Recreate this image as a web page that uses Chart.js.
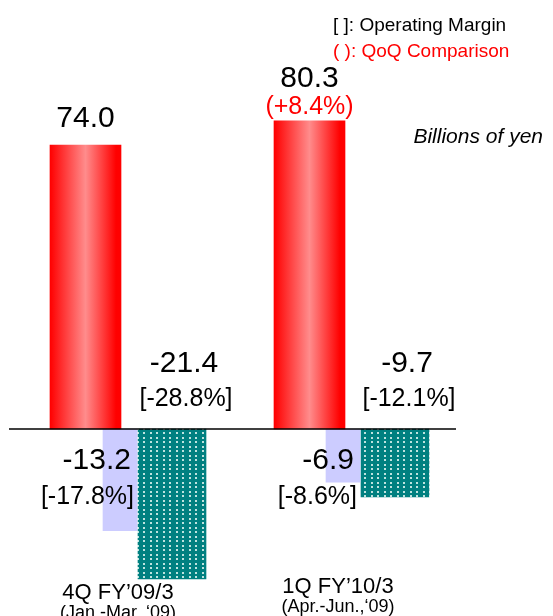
<!DOCTYPE html>
<html>
<head>
<meta charset="utf-8">
<script src="https://cdn.jsdelivr.net/npm/chart.js@4.4.0/dist/chart.umd.min.js"></script>
<style>
  html, body { margin: 0; padding: 0; background: #fff; }
  canvas { display: block; }
</style>
</head>
<body>
<canvas id="chart" width="553" height="616"></canvas>
<script>
// quarters shown on the x axis
const quarters = [`4Q FY\u201909/3`, `1Q FY\u201910/3`];
const periods = [`(Jan.-Mar.,\u201809)`, `(Apr.-Jun.,\u201809)`];

// billions of yen
const netSales = [74.0, 80.3];
const salesQoq = [null, 8.4];
const ordinaryIncome = [-13.2, -6.9];
const ordinaryMargin = [-17.8, -8.6];
const operatingIncome = [-21.4, -9.7];
const operatingMargin = [-28.8, -12.1];

const FONT = `"Liberation Sans", Arial, sans-serif`;
const WIDTH = 553;
const HEIGHT = 616;
const ZERO_PX = 429;

// the slide is not drawn to one scale, so each series gets its own axis
const yRange = (pxPerUnit) => ({
  min: -(HEIGHT - ZERO_PX) / pxPerUnit,
  max: ZERO_PX / pxPerUnit
});
const xRange = (firstCenter, spacing) => ({
  min: -firstCenter / spacing,
  max: (WIDTH - firstCenter) / spacing
});
const hidden = (type, range) => Object.assign({type, display: false, bounds: `data`, offset: false}, range);

const toPoints = (values) => values.map((y, x) => ({x, y}));

const makeDots = () => {
  const tile = document.createElement(`canvas`);
  tile.width = 13;
  tile.height = 9;
  const c = tile.getContext(`2d`);
  c.fillStyle = `#008080`;
  c.fillRect(0, 0, 13, 9);
  c.fillStyle = `rgba(225, 245, 240, 0.85)`;
  [[0, 0], [7, 0], [0, 5], [7, 5]].forEach(([x, y]) => c.fillRect(x, y, 2, 2));
  return c.createPattern(tile, `repeat`);
};

const redFill = (context) => {
  const {chart, dataIndex} = context;
  const scale = chart.scales.xRed;
  if (dataIndex === undefined || !scale) {
    return `#ff0000`;
  }
  const cx = scale.getPixelForValue(dataIndex);
  if (!Number.isFinite(cx)) {
    return `#ff0000`;
  }
  const g = chart.ctx.createLinearGradient(cx - 35.5, 0, cx + 35.5, 0);
  g.addColorStop(0, `#ff0000`);
  g.addColorStop(0.5, `#ff8c8c`);
  g.addColorStop(0.93, `#ff0000`);
  g.addColorStop(1, `#ff0000`);
  return g;
};

const text = (ctx, str, x, y, font, color = `#000`, align = `center`) => {
  ctx.font = font;
  ctx.fillStyle = color;
  ctx.textAlign = align;
  ctx.textBaseline = `alphabetic`;
  ctx.fillText(str, x, y);
};

const fmt = (v) => v.toFixed(1);

const labelPlugin = {
  id: `slideLabels`,
  afterDatasetsDraw(chart) {
    const {ctx} = chart;
    const zero = chart.scales.yRed.getPixelForValue(0);
    ctx.save();

    ctx.strokeStyle = `#000`;
    ctx.lineWidth = 1.5;
    ctx.beginPath();
    ctx.moveTo(9, zero);
    ctx.lineTo(456, zero);
    ctx.stroke();

    const big = `30px ${FONT}`;
    const mid = `25px ${FONT}`;

    chart.getDatasetMeta(0).data.forEach((bar, i) => {
      if (salesQoq[i] !== null) {
        text(ctx, fmt(netSales[i]), bar.x, bar.y - 34, big);
        text(ctx, `(+${fmt(salesQoq[i])}%)`, bar.x, bar.y - 7, `25px ${FONT}`, `#ff0000`);
      } else {
        text(ctx, fmt(netSales[i]), bar.x, bar.y - 18, big);
      }
    });

    chart.getDatasetMeta(1).data.forEach((bar, i) => {
      const right = bar.x + bar.width / 2;
      text(ctx, fmt(ordinaryIncome[i]), right - 6, zero + 40, big, `#000`, `right`);
      text(ctx, `[${fmt(ordinaryMargin[i])}%]`, right - 3, zero + 75, mid, `#000`, `right`);
    });

    chart.getDatasetMeta(2).data.forEach((bar, i) => {
      text(ctx, fmt(operatingIncome[i]), bar.x + 12, zero - 57, big);
      text(ctx, `[${fmt(operatingMargin[i])}%]`, bar.x + 14, zero - 23, mid);
    });

    const xLabel = chart.scales.xLabel;
    const drop = [3, -3];
    quarters.forEach((q, i) => {
      const x = xLabel.getPixelForValue(i);
      text(ctx, q, x, 596 + drop[i], `22px ${FONT}`);
      text(ctx, periods[i], x, 615 + drop[i], `18px ${FONT}`);
    });

    text(ctx, `[ ]: Operating Margin`, 333, 31, `19px ${FONT}`, `#000`, `left`);
    text(ctx, `( ): QoQ Comparison`, 333, 57, `19px ${FONT}`, `#ff0000`, `left`);
    text(ctx, `Billions of yen`, 543, 143, `italic 21px ${FONT}`, `#000`, `right`);

    ctx.restore();
  }
};

new Chart(document.getElementById(`chart`), {
  type: `bar`,
  data: {
    datasets: [{
      label: `Net sales`,
      data: toPoints(netSales),
      xAxisID: `xRed`,
      yAxisID: `yRed`,
      backgroundColor: redFill,
      barThickness: 71,
      grouped: false,
      borderWidth: 0
    }, {
      label: `Ordinary income`,
      data: toPoints(ordinaryIncome),
      xAxisID: `xLav`,
      yAxisID: `yLav`,
      backgroundColor: `#ccccff`,
      barThickness: 34,
      grouped: false,
      borderWidth: 0
    }, {
      label: `Operating income`,
      data: toPoints(operatingIncome),
      xAxisID: `xTeal`,
      yAxisID: `yTeal`,
      backgroundColor: makeDots(),
      barThickness: 68,
      grouped: false,
      borderWidth: 0
    }]
  },
  options: {
    responsive: false,
    animation: false,
    layout: {padding: 0},
    scales: {
      xRed: hidden(`linear`, xRange(85.5, 224)),
      xLav: hidden(`linear`, xRange(120, 223)),
      xTeal: hidden(`linear`, xRange(172, 223)),
      xLabel: hidden(`linear`, xRange(118, 220)),
      yRed: hidden(`linear`, yRange(3.837)),
      yLav: hidden(`linear`, yRange(7.71)),
      yTeal: hidden(`linear`, yRange(7.0))
    },
    plugins: {
      legend: {display: false},
      tooltip: {enabled: false}
    }
  },
  plugins: [labelPlugin]
});
</script>
</body>
</html>
